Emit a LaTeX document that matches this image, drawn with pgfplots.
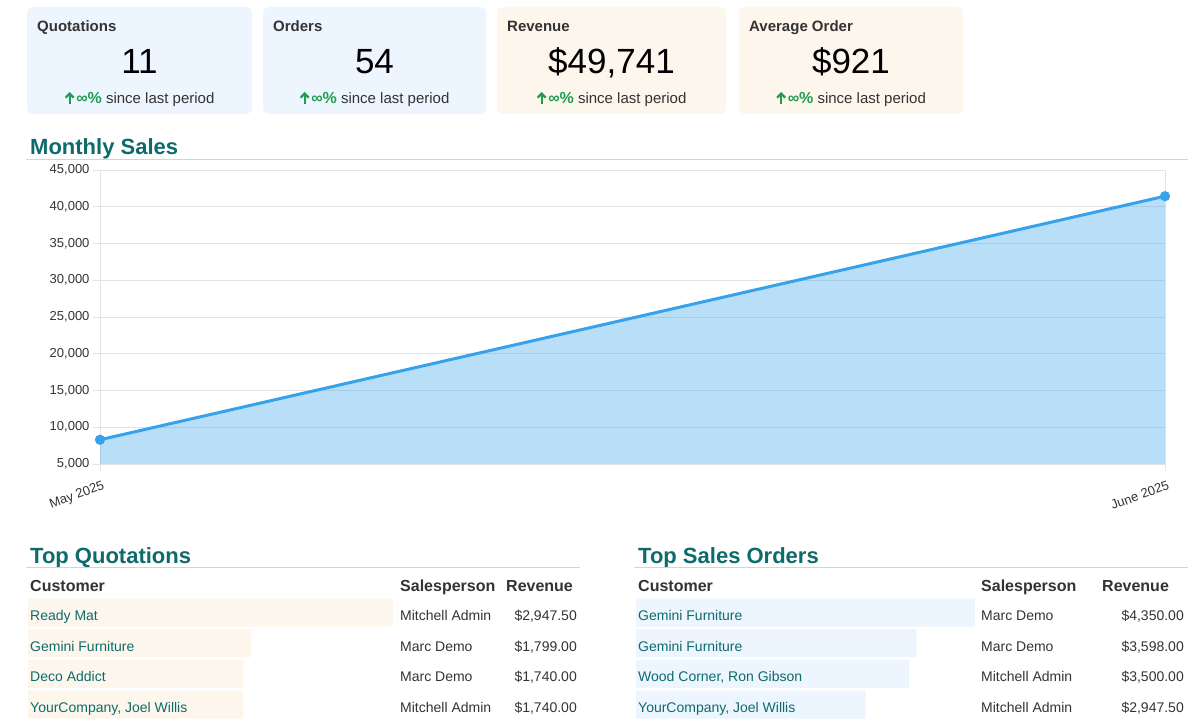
\documentclass[border=0pt]{standalone}
\usepackage{fontspec}
\setmainfont{Liberation Sans}
\usepackage{pgfplots}
\pgfplotsset{compat=1.18}

\definecolor{cardblue}{HTML}{EDF5FF}
\definecolor{cardcream}{HTML}{FCF6EC}
\definecolor{rowcream}{HTML}{FDF6EC}
\definecolor{rowblue}{HTML}{EDF5FE}
\definecolor{odooteal}{HTML}{0D6B6B}
\definecolor{upgreen}{HTML}{1E9E4E}
\definecolor{lineblue}{HTML}{36A2EB}
\definecolor{gridgrey}{HTML}{E4E4E4}
\definecolor{rulegrey}{HTML}{D4D4D4}
\definecolor{textgrey}{HTML}{333333}

\newcommand\fs[1]{\fontsize{#1bp}{#1bp}\selectfont}
\newcommand\uparr{\tikz[baseline=0pt, line width=2.2bp, upgreen]{%
  \draw (0,0) -- (0,10.5bp);
  \draw[line join=miter] (-4bp,6.3bp) -- (0,10.5bp) -- (4bp,6.3bp);}}

% KPI card: x0, x1, title, value, colour
\newcommand\card[5]{%
  \fill[#5, rounded corners=6bp] (#1,-7) rectangle (#2,-114);
  \node[anchor=base west, inner sep=0, text=textgrey, font=\bfseries\fs{15}] at (#1+10,-32) {#3};
  \node[anchor=base, inner sep=0, font=\fs{35}] at ({(#1+#2)/2},-74) {#4};
  \node[anchor=base, inner sep=0, text=textgrey, font=\fs{15}] at ({(#1+#2)/2},-104)
    {\uparr\hspace{1.5bp}\textcolor{upgreen}{\fs{16}\bfseries ∞\%} since last period};
}

\begin{document}
\begin{tikzpicture}[x=1bp,y=1bp]
\useasboundingbox (0,0) rectangle (1200,-721);

\card{27}{252}{Quotations}{11}{cardblue}
\card{263}{486}{Orders}{54}{cardblue}
\card{497}{726}{Revenue}{\$49,741}{cardcream}
\card{739}{963}{Average Order}{\$921}{cardcream}

% section titles
\node[anchor=base west, inner sep=0, text=odooteal, font=\bfseries\fs{22}] at (30,-155) {Monthly Sales};
\draw[rulegrey, line width=1bp] (26,-159.5) -- (1188,-159.5);
\node[anchor=base west, inner sep=0, text=odooteal, font=\bfseries\fs{22}] at (30,-563) {Top Quotations};
\draw[rulegrey, line width=1.5bp] (26,-567.5) -- (580,-567.5);
\node[anchor=base west, inner sep=0, text=odooteal, font=\bfseries\fs{22}] at (638,-563) {Top Sales Orders};
\draw[rulegrey, line width=1.5bp] (634,-567.5) -- (1188,-567.5);

% monthly sales chart
\begin{axis}[
    at={(100bp,-464bp)}, anchor=south west,
    scale only axis, width=1065bp, height=294bp,
    xmin=0, xmax=1, ymin=5000, ymax=45000,
    xtick={0,1}, xticklabels={May 2025, June 2025},
    ytick={5000,10000,...,45000},
    xtick pos=bottom, ytick pos=left,
    grid=major, grid style={gridgrey, line width=0.8bp},
    axis line style={gridgrey, line width=0.8bp},
    tick style={gridgrey, line width=0.8bp},
    tick align=outside, major tick length=7bp,
    scaled y ticks=false,
    /pgf/number format/assume math mode=true,
    /pgf/number format/1000 sep={,},
    yticklabel style={font=\fs{13}, text=textgrey, anchor=east},
    xticklabel style={font=\fs{13}, text=textgrey, rotate=20, anchor=north east, yshift=-6bp, xshift=2bp},
    clip mode=individual,
]
\addplot[draw=none, fill=lineblue, fill opacity=0.35] coordinates {(0,8300) (1,41441)} \closedcycle;
\addplot[lineblue, line width=3bp, mark=*, mark size=3.5bp, mark options={fill=lineblue}]
    coordinates {(0,8300) (1,41441)};
\end{axis}

% top quotations table
\begin{axis}[
    at={(28bp,-597.15bp)}, anchor=north west,
    scale only axis, width=365bp, height=122.8bp,
    hide axis, xmin=0, xmax=2947.5, ymin=-0.5, ymax=3.5, y dir=reverse,
    xbar, bar width=28bp,
]
\addplot[draw=none, fill=rowcream] coordinates {(2947.5,0) (1799,1) (1740,2) (1740,3)};
\end{axis}

% top sales orders table
\begin{axis}[
    at={(636bp,-597.15bp)}, anchor=north west,
    scale only axis, width=339bp, height=122.8bp,
    hide axis, xmin=0, xmax=4350, ymin=-0.5, ymax=3.5, y dir=reverse,
    xbar, bar width=28bp,
]
\addplot[draw=none, fill=rowblue] coordinates {(4350,0) (3598,1) (3500,2) (2947.5,3)};
\end{axis}

\begin{scope}[every node/.style={inner sep=0}]
% headers
\foreach \x/\t in {30/Customer, 400/Salesperson, 506/Revenue, 638/Customer, 981/Salesperson, 1102/Revenue}
  \node[anchor=base west, text=textgrey, font=\bfseries\fs{16}] at (\x,-591) {\t};
% left rows
\foreach \y/\c/\s/\r in {620.5/Ready Mat/Mitchell Admin/2{,}947.50,
                         651.2/Gemini Furniture/Marc Demo/1{,}799.00,
                         681.9/Deco Addict/Marc Demo/1{,}740.00,
                         712.6/{YourCompany, Joel Willis}/Mitchell Admin/1{,}740.00} {
  \node[anchor=base west, text=odooteal, font=\fs{14}] at (30,-\y) {\c};
  \node[anchor=base west, text=textgrey, font=\fs{14}] at (400,-\y) {\s};
  \node[anchor=base east, text=textgrey, font=\fs{14}] at (577,-\y) {\$\r};
}
% right rows
\foreach \y/\c/\s/\r in {620.5/Gemini Furniture/Marc Demo/4{,}350.00,
                         651.2/Gemini Furniture/Marc Demo/3{,}598.00,
                         681.9/{Wood Corner, Ron Gibson}/Mitchell Admin/3{,}500.00,
                         712.6/{YourCompany, Joel Willis}/Mitchell Admin/2{,}947.50} {
  \node[anchor=base west, text=odooteal, font=\fs{14}] at (638,-\y) {\c};
  \node[anchor=base west, text=textgrey, font=\fs{14}] at (981,-\y) {\s};
  \node[anchor=base east, text=textgrey, font=\fs{14}] at (1184,-\y) {\$\r};
}
\end{scope}
\end{tikzpicture}
\end{document}
